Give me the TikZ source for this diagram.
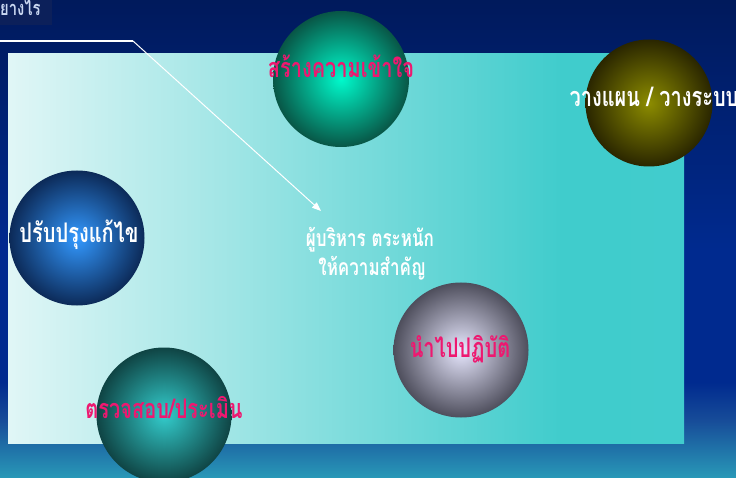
\documentclass[tikz,border=0pt]{standalone}
\usepackage{fontspec}
\usetikzlibrary{arrows.meta}
\newfontfamily\thaifont[Script=Thai,FakeStretch=0.74]{Loma}
\definecolor{pinktext}{RGB}{238,24,112}
\definecolor{titlebg}{RGB}{12,32,90}
\definecolor{titletext}{RGB}{200,214,240}
\pgfdeclareverticalshading{bgshade}{100bp}{rgb(0bp)=(0.16,0.6,0.72); rgb(25bp)=(0.16,0.6,0.72); rgb(31bp)=(0.09,0.3,0.6); rgb(35bp)=(0,0.165,0.56); rgb(49bp)=(0,0.165,0.56); rgb(75bp)=(0,0.1,0.36); rgb(100bp)=(0,0.1,0.36)}
\pgfdeclarehorizontalshading{mainshade}{100bp}{rgb(0bp)=(0.88,0.965,0.965); rgb(25bp)=(0.88,0.965,0.965); rgb(66bp)=(0.25,0.8,0.8); rgb(100bp)=(0.27,0.8,0.81)}
\tikzset{
  sphere/.style={circle, draw=none, minimum size=#1, inner sep=0pt},
  lbl/.style={font=\thaifont\bfseries\fontsize{27}{31}\selectfont, anchor=base, inner sep=0pt},
}
\begin{document}
\begin{tikzpicture}[x=1pt,y=-1pt]
\useasboundingbox (0,0) rectangle (736,478);
% background
\shade[shading=bgshade] (0,0) rectangle (736,478);
% title box
\node[fill=titlebg, minimum width=52pt, minimum height=25pt, anchor=north west, inner sep=0pt] (titlebox) at (0,0) {};
\node[font=\thaifont\bfseries\fontsize{20}{24}\selectfont, text=titletext, anchor=base west, inner sep=0pt] (title) at (0,16) {ยางไร};
% main panel
\shade[shading=mainshade] (8,54) rectangle (684,443);
% connector
\coordinate (lstart) at (0,41);
\coordinate (lbend) at (133,41);
\coordinate (ltip) at (321,211);
\draw[white, line width=1.8pt] (lstart) -- (lbend);
\draw[white, line width=1pt, -{Triangle[length=9pt,width=7pt]}] (lbend) -- (ltip);
% spheres
\node[sphere=136pt, shading=radial, inner color={rgb,255:red,0;green,250;blue,204}, outer color={rgb,255:red,8;green,86;blue,70}] (s1) at (341,79) {};
\node[sphere=127pt, shading=radial, inner color={rgb,255:red,140;green,140;blue,0}, outer color={rgb,255:red,42;green,38;blue,0}] (s2) at (649,103) {};
\node[sphere=135pt, shading=radial, inner color={rgb,255:red,51;green,153;blue,255}, outer color={rgb,255:red,12;green,42;blue,88}] (s3) at (77,238) {};
\node[sphere=135pt, shading=radial, inner color={rgb,255:red,232;green,232;blue,255}, outer color={rgb,255:red,78;green,78;blue,92}] (s4) at (461,350) {};
\node[sphere=135pt, shading=radial, inner color={rgb,255:red,51;green,204;blue,204}, outer color={rgb,255:red,15;green,68;blue,68}] (s5) at (164,415) {};
% labels
\node[lbl, text=pinktext] (t1) at (341,78) {สร้างความเข้าใจ};
\node[lbl, text=white] (t2) at (654,107) {วางแผน / วางระบบ};
\node[lbl, text=white] (t3) at (79,243) {ปรับปรุงแก้ไข};
\node[lbl, text=pinktext] (t4) at (460,357) {นำไปปฏิบัติ};
\node[lbl, text=pinktext] (t5) at (164,418) {ตรวจสอบ/ประเมิน};
\node[lbl, text=white, font=\thaifont\bfseries\fontsize{23}{27}\selectfont] (c1) at (370,247) {ผู้บริหาร ตระหนัก};
\node[lbl, text=white, font=\thaifont\bfseries\fontsize{23}{27}\selectfont] (c2) at (372,276) {ให้ความสำคัญ};
\end{tikzpicture}
\end{document}
